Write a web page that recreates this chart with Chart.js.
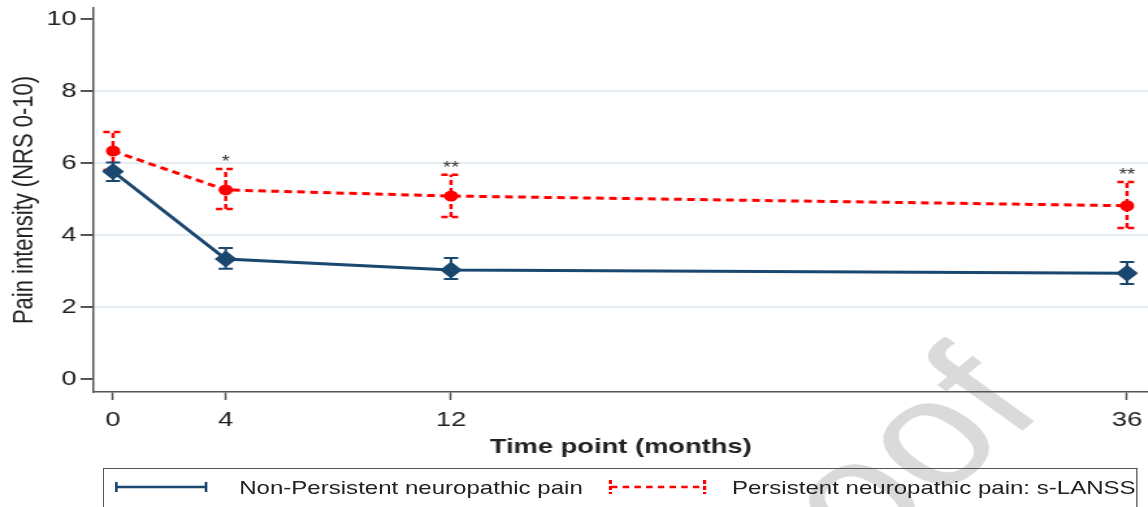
<!DOCTYPE html>
<html>
<head>
<meta charset="utf-8">
<script src="https://cdn.jsdelivr.net/npm/chart.js@4/dist/chart.umd.min.js"></script>
<style>
	body { margin: 0; background: #fff; overflow: hidden; }
	#wrap {
		position: relative; width: 883px; height: 507px; overflow: hidden;
		transform: scaleX(1.3); transform-origin: 0 0;
		font-family: Arial, "Liberation Sans", sans-serif;
	}
	#chart { position: absolute; left: 0; top: 0; }
	#legend {
		position: absolute; left: 79px; top: 468px; width: 796px; height: 60px;
		border: 1.5px solid #555; border-bottom: none; box-sizing: border-box;
	}
	#legend .icon { position: absolute; top: 11px; }
	#legend .txt { position: absolute; top: 8px; font-size: 18.5px; color: #222; white-space: nowrap; }
</style>
</head>
<body>
<div id="wrap">
	<canvas id="chart" width="883" height="507"></canvas>
	<div id="legend">
		<svg class="icon" style="left:8px" width="72" height="14">
			<line x1="1" y1="7" x2="71" y2="7" stroke="#1a476f" stroke-width="2.5"/>
			<line x1="1.5" y1="2" x2="1.5" y2="12" stroke="#1a476f" stroke-width="2"/>
			<line x1="70.5" y1="2" x2="70.5" y2="12" stroke="#1a476f" stroke-width="2"/>
		</svg>
		<span class="txt" style="left:104px">Non-Persistent neuropathic pain</span>
		<svg class="icon" style="left:388px" width="76" height="14">
			<line x1="2" y1="7" x2="74" y2="7" stroke="#ff0000" stroke-width="2.5" stroke-dasharray="5 4"/>
			<line x1="1.5" y1="0" x2="1.5" y2="14" stroke="#ff0000" stroke-width="2.5" stroke-dasharray="4 2"/>
			<line x1="74" y1="0" x2="74" y2="14" stroke="#ff0000" stroke-width="2.5" stroke-dasharray="4 2"/>
		</svg>
		<span class="txt" style="left:483px">Persistent neuropathic pain: s-LANSS</span>
	</div>
</div>
<script>
'use strict';

// time points (months)
const months = [0, 4, 12, 36];

// non-persistent neuropathic pain: mean and 95% CI
const nonPersMean = [5.76, 3.33, 3.03, 2.94];
const nonPersLow = [5.50, 3.06, 2.78, 2.64];
const nonPersHigh = [6.01, 3.64, 3.36, 3.25];

// persistent neuropathic pain (s-LANSS): mean and 95% CI
const persMean = [6.33, 5.25, 5.08, 4.81];
const persLow = [5.80, 4.72, 4.50, 4.19];
const persHigh = [6.86, 5.83, 5.67, 5.47];

// significance markers above persistent group
const signif = ['', '*', '**', '**'];

const yTicks = [0, 2, 4, 6, 8, 10];
const xTicks = months;

const NAVY = '#1a476f';
const RED = '#ff0000';

function toPoints(xs, ys) {
	return xs.map((x, i) => ({x: x, y: ys[i]}));
}

const errorBars = {
	id: 'errorBars',
	beforeDatasetDraw(chart, args) {
		let ds = chart.data.datasets[args.index];
		if (!ds.errLow) return;
		let ctx = chart.ctx;
		let xs = chart.scales.x, ys = chart.scales.y;
		ctx.save();
		ctx.strokeStyle = ds.borderColor;
		ctx.lineWidth = ds.errWidth;
		ctx.setLineDash(ds.errDash || []);
		ds.data.forEach((p, i) => {
			let px = xs.getPixelForValue(p.x);
			let lo = ys.getPixelForValue(ds.errLow[i]);
			let hi = ys.getPixelForValue(ds.errHigh[i]);
			let cw = ds.capWidth / 2;
			ctx.beginPath();
			ctx.moveTo(px, lo); ctx.lineTo(px, hi);
			ctx.moveTo(px - cw, lo); ctx.lineTo(px + cw, lo);
			ctx.moveTo(px - cw, hi); ctx.lineTo(px + cw, hi);
			ctx.stroke();
		});
		ctx.restore();
	}
};

const starLabels = {
	id: 'starLabels',
	afterDatasetsDraw(chart) {
		let ctx = chart.ctx;
		let xs = chart.scales.x, ys = chart.scales.y;
		ctx.save();
		ctx.fillStyle = '#333';
		ctx.font = '16px Arial, "Liberation Sans"';
		ctx.textAlign = 'center';
		ctx.textBaseline = 'alphabetic';
		signif.forEach((s, i) => {
			if (!s) return;
			ctx.fillText(s, xs.getPixelForValue(months[i]), ys.getPixelForValue(persHigh[i]) - 2);
		});
		ctx.restore();
	}
};

const watermark = {
	id: 'watermark',
	beforeDraw(chart) {
		let ctx = chart.ctx;
		ctx.save();
		ctx.translate(806, 410);
		ctx.rotate(-47 * Math.PI / 180);
		ctx.fillStyle = '#dadada';
		ctx.font = '150px Arial, "Liberation Sans"';
		ctx.textAlign = 'right';
		ctx.textBaseline = 'alphabetic';
		ctx.fillText('Proof', 0, 0);
		ctx.restore();
	}
};

new Chart(document.getElementById('chart'), {
	type: 'line',
	data: {
		datasets: [
			{
				label: 'Non-Persistent neuropathic pain',
				data: toPoints(months, nonPersMean),
				errLow: nonPersLow, errHigh: nonPersHigh,
				errWidth: 2, capWidth: 11,
				borderColor: NAVY, backgroundColor: NAVY,
				borderWidth: 3,
				pointStyle: 'rectRot', pointRadius: 8.5, pointBorderWidth: 0,
			},
			{
				label: 'Persistent neuropathic pain: s-LANSS',
				data: toPoints(months, persMean),
				errLow: persLow, errHigh: persHigh,
				errWidth: 2.5, capWidth: 15, errDash: [5, 3],
				borderColor: RED, backgroundColor: RED,
				borderWidth: 3, borderDash: [6, 4],
				pointStyle: 'circle', pointRadius: 5.5, pointBorderWidth: 0,
			},
		]
	},
	plugins: [watermark, errorBars, starLabels],
	options: {
		responsive: false,
		animation: false,
		layout: {autoPadding: false, padding: {top: 8, bottom: 47, left: 0, right: 0}},
		plugins: {
			legend: {display: false},
			tooltip: {enabled: false},
		},
		scales: {
			x: {
				type: 'linear',
				min: -0.69, max: 36.74,
				afterBuildTicks: scale => { scale.ticks = xTicks.map(v => ({value: v})); },
				afterFit: scale => {
					scale.height = 68;
					scale.paddingLeft = 0;
					scale.paddingRight = 0;
				},
				grid: {drawOnChartArea: false, drawTicks: true, tickLength: 8, tickColor: '#555', tickWidth: 1.5},
				border: {display: true, color: '#555', width: 1.5},
				ticks: {color: '#222', font: {family: 'Arial, "Liberation Sans"', size: 21}, padding: 8, maxRotation: 0, autoSkip: false},
				title: {
					display: true, text: 'Time point (months)', color: '#222',
					font: {family: 'Arial, "Liberation Sans"', size: 21, weight: 'bold'},
					padding: {top: 8, bottom: 0},
				},
			},
			y: {
				min: -0.36, max: 10.3,
				afterBuildTicks: scale => { scale.ticks = yTicks.map(v => ({value: v})); },
				afterFit: scale => {
					scale.width = 72;
					scale.paddingTop = 0;
					scale.paddingBottom = 0;
				},
				grid: {
					color: c => (c.tick && c.tick.value > 0 && c.tick.value < 10) ? '#e3edf2' : 'rgba(0,0,0,0)',
					lineWidth: 2,
					drawTicks: true, tickLength: 10, tickColor: '#555', tickWidth: 2,
				},
				border: {display: true, color: '#555', width: 1.5},
				ticks: {color: '#222', font: {family: 'Arial, "Liberation Sans"', size: 21}, padding: 3},
				title: {
					display: true, text: 'Pain intensity (NRS 0-10)', color: '#222',
					font: {family: 'Arial, "Liberation Sans"', size: 22},
					padding: {top: 6, bottom: 0},
				},
			},
		},
	},
});
</script>
</body>
</html>
